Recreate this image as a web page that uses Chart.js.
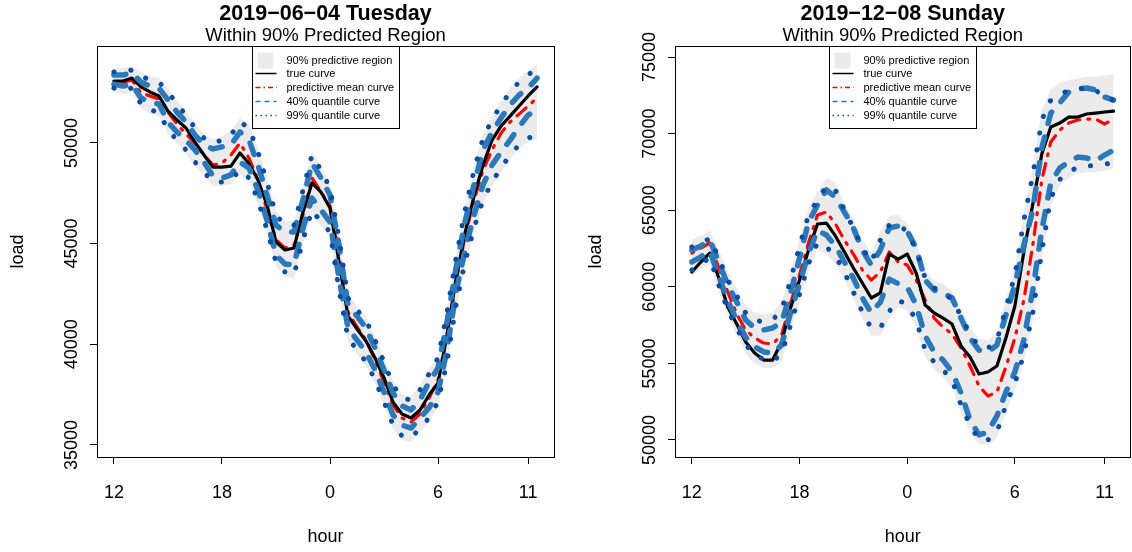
<!DOCTYPE html>
<html lang="en">
<head>
<meta charset="UTF-8">
<script src="https://cdn.jsdelivr.net/npm/chart.js@4.4.0/dist/chart.umd.min.js"></script>
<title>load curves</title>
<style>
  body { margin: 0; background: #fff; }
  #wrap { position: relative; width: 1132px; height: 552px; }
  canvas { position: absolute; top: 0; }
</style>
</head>
<body>
<div id="wrap">
  <canvas id="tueChart" width="566" height="552" style="left:0;width:566px;height:552px"></canvas>
  <canvas id="sunChart" width="566" height="552" style="left:566px;width:566px;height:552px"></canvas>
</div>
<script>
// half-hour steps counted from 12:00
const hours = [0,0.5,1,1.5,2,2.5,3,3.5,4,4.5,5,5.5,6,6.5,7,7.5,8,8.5,9,9.5,10,10.5,11,11.5,
               12,12.5,13,13.5,14,14.5,15,15.5,16,16.5,17,17.5,18,18.5,19,19.5,20,20.5,21,21.5,22,22.5,23,23.5];
const xTickPos = [0, 6, 12, 18, 23];
const xTickLabels = ['12', '18', '0', '6', '11'];
const legendLabels = ['90% predictive region', 'true curve', 'predictive mean curve', '40% quantile curve', '99% quantile curve'];

// 2019-06-04 Tuesday
const tueTrue = [53070,53070,53220,52780,52530,52330,51580,51140,50740,50040,49400,48800,48800,48850,49500,48980,48160,46920,45080,44680,44780,46570,48010,47560,
                 46770,44090,41400,40760,40160,39320,38330,37130,36540,36340,36740,37480,38080,40460,43240,45530,47360,48900,50140,50840,51330,51830,52330,52780];
const tueMean = [53020,53020,53120,52480,52330,52180,51530,50940,50440,49990,49400,48900,49000,49400,49990,49250,48160,46670,45180,44780,44930,46420,48260,47560,
                 46870,44430,41600,40860,40210,39220,38130,36990,36340,36140,36540,37330,38230,40460,43090,45380,47160,48650,49650,50490,51040,51430,51830,52230];
const tueQ40Hi = [53370,53370,53470,53020,52820,52720,52130,51530,51040,50390,49900,49700,49800,49900,50540,50140,48900,47410,45920,45580,45580,47160,49000,48260,
                  47410,44930,41950,41400,40810,39820,38720,37580,36940,36740,37230,38130,38820,41110,43790,46070,47910,49650,50540,51240,51880,52380,52720,53220];
const tueQ40Lo = [52920,52820,52920,52230,52030,51930,51040,50540,50140,49650,49050,48360,48260,48410,49050,48750,47660,46170,44430,43990,43940,45770,47260,46670,
                  46070,43290,40810,40210,39620,38720,37630,36490,35990,35840,36340,36840,37630,39720,42600,44680,46420,47910,48900,49550,50140,50790,51380,51630];
const tueQ99Hi = [53520,53520,53620,53320,53120,53020,52530,51930,51380,50740,50240,49990,50140,50390,51040,50740,49550,48060,46420,45920,45920,47660,49400,48650,
                  47760,45280,42300,41700,41210,40210,39120,37980,37330,37230,37730,38530,39320,41600,44290,46670,48650,50240,51140,51880,52530,53020,53370,53720];
const tueQ99Lo = [52720,52630,52720,51930,51630,51530,50640,50140,49650,49050,48550,48060,48060,48160,48650,48260,47160,45680,44090,43590,43440,45180,46670,46070,
                  45580,42700,40310,39720,39120,38230,37140,35990,35450,35350,35840,36340,37140,39120,41950,44090,45770,47160,48060,48750,49400,49900,50240,50390];
const tueBandHi = [53720,53720,53820,53520,53320,53220,52730,52130,51580,50940,50440,50190,50340,50590,51240,50940,49750,48260,46620,46120,46120,47860,49600,48850,
                   47960,45480,42500,41900,41410,40410,39320,38180,37530,37430,37930,38730,39520,41800,44490,46870,48850,50440,51340,52080,52730,53220,53570,53920];
const tueBandLo = [52520,52430,52520,51730,51430,51330,50440,49940,49450,48850,48350,47860,47860,47960,48450,48060,46960,45480,43890,43390,43240,44980,46470,45870,
                   45380,42500,40110,39520,38920,38030,36940,35790,35250,35150,35640,36140,36940,38920,41750,43890,45570,46960,47860,48550,49200,49700,50040,50190];
const tueYTicks = [35000, 40000, 45000, 50000];

// 2019-12-08 Sunday
const sunTrue = [60970,61620,62200,60570,58680,57570,56400,55680,55220,55220,56400,58620,60440,62400,64100,64160,63320,62270,61230,60250,59270,59600,62140,61810,
                 62140,60900,58810,58290,57960,57570,56140,55420,54310,54440,54830,56660,58750,62270,65400,68670,70430,70690,71080,71080,71280,71340,71410,71470];
const sunMean = [62200,62530,62860,61230,59660,58220,57180,56660,56330,56270,56850,58940,60770,62860,64690,64880,64100,63050,62140,61100,60440,60970,62270,61620,
                 61420,60440,59140,57960,57380,56920,56000,54830,53530,52870,53130,54770,56660,59140,62730,66970,69450,70230,70690,70890,70950,70950,70630,70950];
const sunQ40Hi = [62400,62660,63050,61620,60120,59010,57830,57310,57180,57310,57700,59590,61880,64230,65340,66320,65860,64880,63840,62400,61420,62400,63840,63970,
                  63640,62530,60440,59790,59590,59270,57960,56660,55870,55740,56200,58160,60120,62730,65010,69060,71340,72000,72710,72910,72980,72850,72390,72190];
const sunQ40Lo = [61620,61960,62340,60700,59100,57800,56700,56100,55750,55650,56200,58300,60200,62200,63700,63380,62660,61620,60570,59270,58290,59000,60500,60200,
                  59990,58810,56790,55740,55220,54440,53070,51310,50330,50520,51570,53130,54440,56530,59790,63710,66770,67750,68150,68470,68410,68210,68600,68930];
const sunQ99Hi = [62600,62790,63180,61880,60440,59400,58290,57830,57700,57830,58490,60440,62660,64690,65660,66580,66320,65010,63840,62530,61620,63050,64030,64100,
                  63580,62400,60570,59920,59660,59140,58100,56900,56100,56000,56500,58620,60770,64360,67300,70890,72190,72520,72850,72910,72980,72850,72320,72190];
const sunQ99Lo = [61100,61500,61900,60100,58500,57300,56200,55600,55250,55150,55600,57500,59500,61500,62900,62600,62000,60970,59660,58350,57300,57300,58400,59140,
                  58810,57830,55870,55090,54570,53920,52280,50980,50000,50000,50520,52280,53700,55600,58300,62300,65800,67000,67500,67800,67900,67900,68000,68100];
const sunBandHi = [63100,63300,63700,62400,61000,59900,58800,58300,58200,58300,59000,61000,63200,65200,66200,67100,66800,65500,64400,63100,62200,63600,64600,64700,
                   64100,62900,61100,60400,60200,59700,58600,57400,56600,56500,57000,59200,61300,64900,67900,71500,72900,73300,73500,73600,73700,73700,73800,73900];
const sunBandLo = [60700,61100,61500,59700,58000,56800,55600,55000,54700,54700,55100,57000,59000,61000,62400,62100,61500,60500,59200,57900,56800,56800,57900,58700,
                   58400,57400,55400,54600,54100,53400,51800,50500,49700,49700,50100,51800,53200,55100,57800,61800,65300,66600,67100,67400,67500,67500,67600,67700];
const sunYTicks = [50000, 55000, 60000, 65000, 70000, 75000];

const FONT = '"Liberation Sans", Arial, Helvetica, sans-serif';
const GREY = '#ebebeb';
const DASH_BLUE = '#2b79b9';
const DOT_BLUE = '#0b4d9f';

function pts(arr) {
  return arr.map((v, i) => ({ x: hours[i], y: v }));
}

// titles, box, rotated y labels, axis names and legend
const decor = {
  id: 'decor',
  afterDraw(chart, args, o) {
    const { ctx, chartArea: a, scales } = chart;
    const cx = (a.left + a.right) / 2;
    ctx.save();
    ctx.strokeStyle = '#000';
    ctx.lineWidth = 1;
    ctx.setLineDash([]);
    ctx.strokeRect(Math.round(a.left) + 0.5, Math.round(a.top) + 0.5, Math.round(a.right - a.left), Math.round(a.bottom - a.top));

    ctx.fillStyle = '#000';
    ctx.textAlign = 'center';
    ctx.textBaseline = 'middle';
    ctx.font = '18px ' + FONT;
    scales.y.ticks.forEach(t => {
      const py = scales.y.getPixelForValue(t.value);
      ctx.save();
      ctx.translate(a.left - 25, py);
      ctx.rotate(-Math.PI / 2);
      ctx.fillText(String(t.value), 0, 0);
      ctx.restore();
    });
    ctx.fillText('hour', cx, a.bottom + 80);
    ctx.save();
    ctx.translate(a.left - 79, (a.top + a.bottom) / 2);
    ctx.rotate(-Math.PI / 2);
    ctx.fillText('load', 0, 0);
    ctx.restore();

    ctx.font = 'bold 21.5px ' + FONT;
    ctx.fillText(o.title, cx, 14);
    ctx.font = '18.5px ' + FONT;
    ctx.fillText(o.subtitle, cx, 36);

    // legend
    const lx = Math.round(cx - 73.5) + 0.5, ly = Math.round(a.top) + 0.5;
    ctx.fillStyle = '#fff';
    ctx.fillRect(lx, ly, 147, 82);
    ctx.strokeRect(lx, ly, 147, 82);
    const rows = [14, 27, 41, 55, 69];
    ctx.fillStyle = GREY;
    ctx.fillRect(lx + 5, ly + 6, 16, 16);
    const styles = [null,
      { c: '#000', d: [] },
      { c: '#ff0000', d: [5, 3, 1.5, 3] },
      { c: DASH_BLUE, d: [5, 4] },
      { c: DOT_BLUE, d: [1.5, 3.5] }];
    ctx.lineWidth = 1.5;
    for (let i = 1; i < 5; i++) {
      ctx.strokeStyle = styles[i].c;
      ctx.setLineDash(styles[i].d);
      ctx.beginPath();
      ctx.moveTo(lx + 3, ly + rows[i]);
      ctx.lineTo(lx + 24, ly + rows[i]);
      ctx.stroke();
    }
    ctx.setLineDash([]);
    ctx.fillStyle = '#000';
    ctx.textAlign = 'left';
    ctx.font = '11px ' + FONT;
    legendLabels.forEach((s, i) => ctx.fillText(s, lx + 34, ly + rows[i]));
    ctx.restore();
  }
};

function makePanel(id, p) {
  const line = (data, color, width, dash, order) => ({
    data: pts(data), borderColor: color, borderWidth: width, borderDash: dash,
    borderCapStyle: 'round', borderJoinStyle: 'round', pointRadius: 0, fill: false, tension: 0, order: order
  });
  return new Chart(document.getElementById(id), {
    type: 'line',
    data: {
      datasets: [
        line(p.q99Hi, DOT_BLUE, 5, [0.1, 17], 1),
        line(p.q99Lo, DOT_BLUE, 5, [0.1, 17], 2),
        line(p.q40Hi, DASH_BLUE, 5.5, [12, 14], 3),
        line(p.q40Lo, DASH_BLUE, 5.5, [12, 14], 4),
        line(p.trueCurve, '#000', 3.2, [], 5),
        line(p.mean, '#ff0000', 3.2, [2, 8, 12, 8], 6),
        { data: pts(p.bandHi), borderWidth: 0, pointRadius: 0, backgroundColor: GREY, fill: '+1', order: 10 },
        { data: pts(p.bandLo), borderWidth: 0, pointRadius: 0, fill: false, order: 11 }
      ]
    },
    options: {
      responsive: false,
      animation: false,
      layout: { padding: { top: 46, right: p.padRight, left: 0, bottom: 0 } },
      plugins: {
        legend: { display: false },
        tooltip: { enabled: false },
        decor: { title: p.title, subtitle: 'Within 90% Predicted Region' }
      },
      scales: {
        x: {
          type: 'linear', min: -0.94, max: 24.44,
          afterBuildTicks: s => { s.ticks = xTickPos.map(v => ({ value: v })); },
          afterFit: s => { s.height = 95; },
          grid: { display: true, drawOnChartArea: false, drawTicks: true, tickLength: 7, color: '#000', lineWidth: 1 },
          border: { display: false },
          ticks: {
            autoSkip: false, maxRotation: 0, padding: 18, color: '#000',
            font: { family: FONT, size: 18 },
            callback: v => xTickLabels[xTickPos.indexOf(v)]
          }
        },
        y: {
          min: p.yMin, max: p.yMax,
          afterBuildTicks: s => { s.ticks = p.yTicks.map(v => ({ value: v })); },
          afterFit: s => { s.width = p.axisWidth; },
          grid: { display: true, drawOnChartArea: false, drawTicks: true, tickLength: 7, color: '#000', lineWidth: 1 },
          border: { display: false },
          ticks: { display: false }
        }
      }
    },
    plugins: [decor]
  });
}

makePanel('tueChart', {
  title: '2019\u221206\u221204 Tuesday',
  trueCurve: tueTrue, mean: tueMean, q40Hi: tueQ40Hi, q40Lo: tueQ40Lo, q99Hi: tueQ99Hi, q99Lo: tueQ99Lo,
  bandHi: tueBandHi, bandLo: tueBandLo, yTicks: tueYTicks,
  yMin: 34404, yMax: 54811, axisWidth: 97, padRight: 12
});

makePanel('sunChart', {
  title: '2019\u221212\u221208 Sunday',
  trueCurve: sunTrue, mean: sunMean, q40Hi: sunQ40Hi, q40Lo: sunQ40Lo, q99Hi: sunQ99Hi, q99Lo: sunQ99Lo,
  bandHi: sunBandHi, bandLo: sunBandLo, yTicks: sunYTicks,
  yMin: 48890, yMax: 75720, axisWidth: 109, padRight: 1
});
</script>
</body>
</html>
